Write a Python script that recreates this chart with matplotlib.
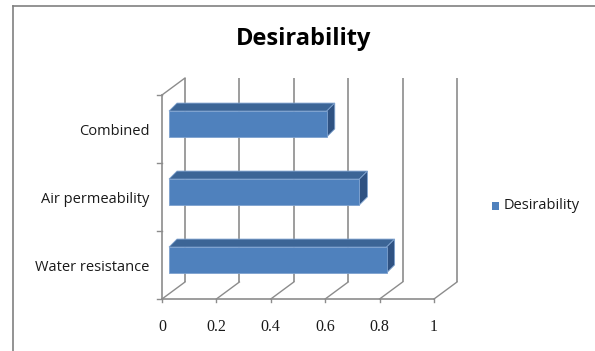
"""Desirability scores per test, drawn as an Excel-style 3D horizontal bar chart."""

import matplotlib.pyplot as plt
from matplotlib.patches import Polygon

categories = ["Water resistance", "Air permeability", "Combined"]
desirability = [0.80, 0.70, 0.58]
x_ticks = [0, 0.2, 0.4, 0.6, 0.8, 1]
x_tick_labels = ["0", "0.2", "0.4", "0.6", "0.8", "1"]

W, H = 595, 351
# pixel mapping of the front plane: x 0..1 -> 162..434, category bands 0..3 -> 299..95
PX0, PX_PER_X = 162, 272
PY0, PY_PER_Y = 299, 68
XLIM = (-0.12, 1.16)
YLIM = (-0.25, 3.45)

# oblique depth of the walls in data units
DEPTH_X = 23 / PX_PER_X
DEPTH_Y = 17 / PY_PER_Y
# bar front face offset from the front plane, and the bar's own depth
BAR_FX, BAR_FY = 7 / PX_PER_X, 5 / PY_PER_Y
BAR_DX, BAR_DY = 8 / PX_PER_X, 8 / PY_PER_Y
BAR_H = 0.38

GRID = "#8c8c8c"
FRONT = "#4f81bd"
TOP = "#3c6596"
SIDE = "#2f5282"
EDGE = "#7ea2cf"

fig = plt.figure(figsize=(W / 100, H / 100), dpi=100)
left_px = PX0 + PX_PER_X * XLIM[0]
right_px = PX0 + PX_PER_X * XLIM[1]
bottom_px = PY0 - PY_PER_Y * YLIM[0]
top_px = PY0 - PY_PER_Y * YLIM[1]
ax = fig.add_axes([left_px / W, 1 - bottom_px / H,
                   (right_px - left_px) / W, (bottom_px - top_px) / H])
ax.set_xlim(*XLIM)
ax.set_ylim(*YLIM)
ax.axis("off")

n = len(categories)

# back wall gridlines and floor diagonals
for xv in x_ticks:
    ax.plot([xv + DEPTH_X] * 2, [DEPTH_Y, n + DEPTH_Y], color=GRID, lw=1.2,
            solid_capstyle="butt", clip_on=False)
    ax.plot([xv, xv + DEPTH_X], [0, DEPTH_Y], color=GRID, lw=1.0, clip_on=False)
    ax.plot([xv, xv], [0, -0.05], color=GRID, lw=1.0, clip_on=False)

# left wall top edge, front axes and category ticks
ax.plot([0, DEPTH_X], [n, n + DEPTH_Y], color=GRID, lw=1.0, clip_on=False)
ax.plot([0, 0], [0, n], color=GRID, lw=1.2, clip_on=False)
ax.plot([0, 1], [0, 0], color=GRID, lw=1.2, clip_on=False)
for yv in range(n + 1):
    ax.plot([-0.018, 0], [yv, yv], color=GRID, lw=1.0, clip_on=False)

# 3D bars: front face, top face, right side
for i, val in enumerate(desirability):
    fx, fy = BAR_FX, BAR_FY
    bx, by = BAR_FX + BAR_DX, BAR_FY + BAR_DY
    y0 = i + 0.5 - BAR_H / 2
    y1 = i + 0.5 + BAR_H / 2
    front = [(fx, y0 + fy), (val + fx, y0 + fy), (val + fx, y1 + fy), (fx, y1 + fy)]
    top = [(fx, y1 + fy), (val + fx, y1 + fy), (val + bx, y1 + by), (bx, y1 + by)]
    side = [(val + fx, y0 + fy), (val + bx, y0 + by), (val + bx, y1 + by), (val + fx, y1 + fy)]
    for pts, col in [(top, TOP), (side, SIDE), (front, FRONT)]:
        ax.add_patch(Polygon(pts, closed=True, facecolor=col, edgecolor=EDGE,
                             lw=0.6, clip_on=False, zorder=3))

# category labels and value axis labels
for i, name in enumerate(categories):
    ax.text(-0.045, i + 0.47, name, ha="right", va="center", fontsize=10.5,
            family="Open Sans", color="#1a1a1a")
for xv, lab in zip(x_ticks, x_tick_labels):
    ax.text(xv, -0.41, lab, ha="center", va="center", fontsize=11.5,
            family="Liberation Serif", color="#1a1a1a")

fig.text(304 / W, 1 - 39 / H, "Desirability", ha="center", va="center",
         fontsize=17, fontweight="bold", family="Open Sans", color="#000000")

# legend
fig.patches.append(Polygon([(492 / W, 1 - 202 / H), (499 / W, 1 - 202 / H),
                            (499 / W, 1 - 210 / H), (492 / W, 1 - 210 / H)],
                           closed=True, transform=fig.transFigure,
                           facecolor=FRONT, edgecolor="none"))
fig.text(504 / W, 1 - 206 / H, "Desirability", ha="left", va="center",
         fontsize=10.5, family="Open Sans", color="#1a1a1a")

# chart frame (top and left edges visible)
fig.add_artist(plt.Line2D([13 / W, 1], [1 - 6 / H, 1 - 6 / H], color="#808080",
                          lw=1.2, transform=fig.transFigure))
fig.add_artist(plt.Line2D([13 / W, 13 / W], [0, 1 - 6 / H], color="#808080",
                          lw=1.2, transform=fig.transFigure))

fig.savefig("out.png", dpi=100)
